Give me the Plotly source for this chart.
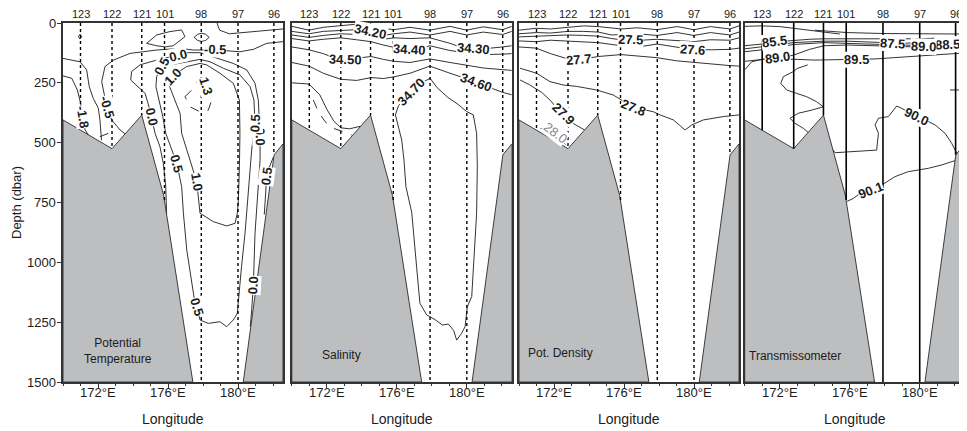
import math
import plotly.graph_objects as go

# ---------------- data ----------------
STATION_IDS = ["123", "122", "121", "101", "98", "97", "96"]
STATION_LON = [171.0, 172.8, 174.5, 175.8, 177.9, 180.0, 182.05]
STATION_BOTTOM = [448, 525, 385, 740, 1500, 1500, 551]

BATHY_W_LON = [170.0, 170.0, 172.8, 174.5, 175.75, 177.42]
BATHY_W_DEP = [1500, 405, 525, 385, 720, 1500]
BATHY_E_LON = [180.3, 182.06, 182.57, 182.57]
BATHY_E_DEP = [1500, 551, 505, 1500]

PANEL_NAMES = ["Potential<br>Temperature", "Salinity", "Pot. Density", "Transmissometer"]
DEPTH_TICKS = [0, 250, 500, 750, 1000, 1250, 1500]
LON_TICKS = [172, 176, 180]
LON_TICK_TEXT = ["172°E", "176°E", "180°E"]

# contour lines: (label, lon list, depth list, label vertex indices, style)
TEMP_CONTOURS = [
    ("", [170.0, 170.97, 171.35, 171.5, 171.73, 172.02, 172.11, 172.2],
     [148, 162, 196, 266, 315, 356, 405, 490], [], "solid"),
    ("-1.8", [170.0, 170.5, 170.82, 171.01, 171.12, 171.26, 171.45],
     [221, 231, 280, 336, 391, 447, 468], [4], "solid"),
    ("", [172.11, 172.59], [475, 461], [], "dash"),
    ("", [174.78, 175.35, 176.1, 176.77, 176.97, 176.5, 176.3, 175.83, 175.35, 174.78],
     [85, 50, 36, 29, 57, 85, 95, 100, 95, 85], [], "solid"),
    ("", [177.49, 177.7, 177.92, 178.15, 178.35, 178.15, 177.92, 177.7, 177.49],
     [60, 47, 43, 47, 60, 73, 77, 73, 60], [], "solid"),
    ("", [170.88, 170.97, 171.06, 170.97, 170.88], [57, 47, 57, 67, 57], [], "solid"),
    ("", [178.8, 178.95, 179.5, 180.2, 181.0, 181.8, 182.57], [0, 30, 45, 40, 35, 30, 25], [], "solid"),
    ("-0.5", [182.57, 181.64, 180.88, 180.11, 179.35, 178.69, 178.02, 177.45, 176.69, 175.83, 175.35,
              174.59, 173.83, 172.88, 172.4, 172.21, 172.4, 172.5, 172.78, 173.26, 173.64],
     [78, 85, 110, 120, 116, 110, 113, 113, 106, 110, 113, 120, 127, 155, 182, 245, 308, 350, 405,
      447, 468], [5, 17], "solid"),
    ("0.0", [175.92, 175.87, 175.73, 175.54, 175.26, 175.07, 174.97, 174.69, 174.21, 173.87, 173.92,
             174.4, 175.35, 176.11, 176.59, 177.16, 177.83, 178.59, 179.73, 180.5, 180.97, 181.16,
             181.22, 181.26, 181.26, 181.16, 181.07, 180.97, 180.91, 180.88, 180.78, 180.7],
     [795, 684, 586, 517, 461, 391, 364, 294, 259, 238, 203, 175, 155, 143, 134, 124, 124, 143, 169,
      196, 252, 322, 391, 475, 573, 684, 795, 879, 1018, 1094, 1199, 1269], [5, 14, 23, 29], "solid"),
    ("0.5", [175.64, 175.35, 175.31, 175.5, 175.7, 175.87, 176.3, 176.5, 176.78, 176.88, 177.07, 177.35,
             177.54, 177.64, 177.83, 178.3, 178.97, 179.35, 179.73, 179.96, 180.02, 180.2, 180.4,
             180.59, 180.78, 180.97, 180.91, 180.69, 180.11, 179.16, 178.4, 177.83, 177.07, 176.3,
             175.64],
     [182, 224, 266, 322, 391, 461, 545, 586, 684, 795, 948, 1088, 1171, 1185, 1241, 1255, 1248,
      1269, 1241, 1213, 1157, 1018, 879, 684, 531, 419, 322, 266, 217, 189, 162, 152, 162, 171, 182],
     [0, 7, 13, 25], "solid"),
    ("0.5", [182.02, 181.75, 181.64, 181.55, 181.5], [560, 610, 642, 720, 800], [2], "solid"),
    ("1.0", [177.83, 177.07, 176.69, 176.3, 176.02, 176.3, 176.69, 176.78, 177.07, 177.35, 177.64,
             177.83, 178.59, 179.35, 179.83, 179.96, 180.02, 180.08, 180.11, 180.08, 179.73, 178.97,
             178.21, 177.83],
     [169, 182, 200, 224, 252, 308, 378, 461, 531, 600, 663, 795, 830, 848, 837, 795, 740, 600, 461,
      322, 252, 210, 175, 169], [3, 10], "solid"),
    ("1.3", [176.97, 177.35, 177.73, 178.02, 178.15, 178.3, 178.5, 178.3, 177.83, 177.26, 176.97],
     [308, 280, 238, 227, 262, 294, 322, 364, 371, 350, 308], [4], "dash"),
]

SAL_CONTOURS = [
    ("", [170.0, 170.98, 171.8, 172.79, 173.7, 174.53, 175.2, 175.84, 176.75, 177.89, 179.04, 179.99,
          180.94, 182.05, 182.57],
     [14, 30, 18, 10, 5, 10, 22, 28, 18, 30, 14, 30, 16, 28, 14], [], "solid"),
    ("34.20", [170.0, 170.98, 171.8, 172.79, 173.7, 174.47, 175.23, 175.84, 176.75, 177.89, 179.04,
               179.99, 180.94, 182.05, 182.57],
     [35, 45, 35, 30, 28, 35, 52, 45, 38, 50, 35, 50, 38, 48, 35], [5], "solid"),
    ("34.30", [170.0, 170.98, 171.8, 172.79, 173.7, 174.53, 175.23, 175.84, 176.75, 177.89, 179.04,
               179.6, 180.38, 180.94, 182.05, 182.57],
     [50, 60, 52, 45, 48, 55, 68, 62, 65, 62, 85, 100, 107, 108, 100, 95], [12], "solid"),
    ("34.40", [170.0, 170.98, 171.8, 172.79, 173.7, 174.53, 175.23, 175.84, 176.75, 177.3, 177.89,
               178.5, 179.04, 179.99, 180.94, 182.05, 182.57],
     [65, 75, 68, 62, 70, 78, 92, 102, 111, 108, 95, 105, 115, 125, 132, 130, 128], [8], "solid"),
    ("34.50", [170.0, 170.98, 171.8, 172.4, 173.04, 173.7, 174.53, 175.23, 175.84, 176.75, 177.89,
               179.04, 179.99, 180.94, 182.05, 182.57],
     [100, 112, 128, 145, 153, 148, 140, 152, 160, 165, 150, 165, 178, 188, 195, 198], [4], "solid"),
    ("34.60", [170.0, 170.98, 171.8, 172.79, 173.7, 174.53, 175.23, 175.84, 176.75, 177.89, 179.04,
               180.0, 180.57, 181.5, 182.05, 182.57],
     [165, 180, 210, 235, 240, 228, 232, 225, 210, 180, 210, 235, 247, 275, 290, 300], [12], "solid"),
    ("", [170.0, 170.98, 171.6, 172.0, 172.4, 172.8, 173.3, 173.9],
     [250, 255, 300, 360, 410, 438, 442, 432], [], "solid"),
    ("", [171.23, 171.52, 171.9, 172.37, 172.94, 173.42], [322, 371, 412, 440, 454, 468], [], "dash"),
    ("34.70", [175.92, 176.1, 176.85, 177.3, 177.9, 178.3, 178.9, 179.5, 179.99, 180.37, 180.56,
               180.6, 180.56, 180.45, 180.28, 180.03, 179.9, 179.7, 179.42, 179.25, 178.95, 178.6,
               178.2, 177.71, 177.32, 177.13, 177.0, 176.85, 176.52, 176.41, 176.28, 176.09, 175.92],
     [384, 345, 287, 255, 231, 270, 310, 340, 370, 384, 461, 600, 795, 950, 1143, 1185, 1269, 1297,
      1325, 1285, 1258, 1262, 1240, 1220, 1171, 1018, 900, 790, 684, 573, 489, 433, 384], [2], "solid"),
]

DENS_CONTOURS = [
    ("", [170.0, 170.98, 171.8, 172.79, 173.7, 174.53, 175.84, 176.75, 177.89, 179.04, 179.99, 180.94,
          182.05, 182.57],
     [30, 22, 25, 18, 12, 15, 25, 20, 28, 15, 28, 15, 25, 12], [], "solid"),
    ("", [170.0, 170.98, 171.8, 172.79, 173.7, 174.53, 175.3, 175.84, 176.75, 177.89, 179.04, 179.99,
          180.94, 182.05, 182.57],
     [45, 40, 42, 35, 35, 38, 50, 48, 45, 52, 40, 52, 40, 50, 38], [], "solid"),
    ("27.5", [170.0, 170.98, 171.8, 172.79, 173.7, 174.53, 175.3, 175.84, 176.36, 177.0, 177.89, 179.04,
              179.99, 180.94, 182.05, 182.57],
     [58, 55, 55, 50, 52, 55, 65, 70, 70, 72, 68, 72, 78, 70, 72, 62], [8], "solid"),
    ("27.6", [170.0, 170.98, 171.8, 172.79, 173.7, 174.53, 175.84, 177.0, 177.89, 179.0, 179.89, 181.0,
              182.05, 182.57],
     [75, 78, 72, 75, 80, 82, 95, 98, 88, 102, 111, 112, 110, 105], [10], "solid"),
    ("27.7", [170.0, 170.98, 171.8, 172.79, 173.41, 174.53, 175.84, 177.0, 177.89, 179.0, 179.99, 181.0,
              182.05, 182.57],
     [100, 105, 128, 150, 153, 140, 132, 140, 145, 158, 165, 170, 178, 180], [4], "solid"),
    ("27.8", [170.06, 171.01, 171.77, 172.53, 173.3, 174.44, 175.39, 176.53, 177.68, 178.06, 178.82,
              179.49, 179.87, 180.53, 181.68, 182.57],
     [189, 210, 245, 259, 265, 280, 301, 352, 371, 384, 405, 447, 426, 405, 391, 384], [7], "solid"),
    ("27.9", [170.06, 170.6, 171.3, 171.77, 172.1, 172.53, 173.1, 173.75],
     [238, 258, 290, 322, 350, 378, 420, 447], [5], "solid"),
    ("28.0", [171.2, 171.7, 172.06, 172.45, 172.7], [440, 448, 458, 490, 512], [2], "gray"),
]

TRANS_CONTOURS = [
    ("", [170.0, 170.99, 172.0, 172.76, 173.7, 174.53, 175.43], [14, 12, 15, 21, 30, 38, 46], [], "solid"),
    ("", [174.0, 175.85, 177.9, 180.0, 182.05, 182.57], [30, 40, 44, 46, 46, 45], [], "solid"),
    ("85.5", [170.0, 170.99, 171.71, 172.76, 173.71, 174.53, 175.85, 177.9, 180.0, 182.05, 182.57],
     [95, 88, 79, 72, 68, 66, 66, 68, 66, 60, 58], [2], "solid"),
    ("87.5", [170.0, 170.99, 172.0, 172.76, 174.53, 175.85, 177.9, 178.47, 179.05, 180.0, 182.05, 182.57],
     [108, 100, 90, 82, 76, 76, 80, 84, 85, 82, 74, 72], [7], "solid"),
    ("88.5", [170.0, 170.99, 172.0, 172.76, 174.53, 175.85, 177.9, 180.0, 181.0, 181.6, 182.57],
     [120, 112, 100, 90, 82, 84, 90, 94, 92, 90, 88], [9], "solid"),
    ("89.0", [170.0, 170.99, 171.9, 172.76, 173.71, 174.53, 175.85, 177.9, 179.0, 180.2, 181.0, 182.57],
     [160, 152, 146, 135, 110, 95, 92, 96, 98, 100, 103, 106], [2, 9], "solid"),
    ("89.5", [170.0, 170.4, 171.1, 172.0, 173.0, 174.0, 175.0, 176.38, 177.5, 178.5, 179.5, 180.5,
              181.5, 182.57],
     [196, 162, 150, 150, 152, 155, 153, 153, 150, 145, 140, 135, 130, 125], [7], "solid"),
    ("", [173.6, 173.0, 172.78, 172.21, 172.06, 172.4, 172.97, 173.54, 174.11, 174.49, 173.83, 173.07,
          172.59, 172.87, 173.35, 173.64],
     [175, 190, 203, 224, 252, 280, 294, 308, 329, 350, 364, 377, 398, 419, 440, 458], [], "solid"),
    ("90.0", [175.05, 175.16, 176.02, 177.54, 177.64, 177.45, 177.64, 178.21, 178.5, 178.69, 178.98,
              179.83, 180.12, 180.88, 181.45, 181.83, 182.12],
     [530, 542, 538, 531, 461, 426, 398, 391, 364, 347, 357, 391, 398, 426, 461, 503, 545], [11], "solid"),
    ("90.1", [175.85, 176.21, 176.59, 177.16, 177.83, 178.59, 179.35, 180.5, 181.26, 182.02],
     [745, 733, 712, 698, 677, 642, 621, 607, 593, 575], [3], "solid"),
    ("", [181.73, 182.57], [280, 280], [], "solid"),
]

PANEL_CONTOURS = [TEMP_CONTOURS, SAL_CONTOURS, DENS_CONTOURS, TRANS_CONTOURS]

# ---------------- layout geometry (window pixels) ----------------
WIN_W, WIN_H = 967, 431
OFF = 8                      # page body margin
W, H = WIN_W - OFF, WIN_H - OFF
PANEL_X0 = [63, 291.8, 519, 744.7]
PANEL_W = 220
PLOT_TOP, PLOT_BOT = 23, 382
LON_MIN, LON_MAX = 170.0, 182.57
DEP_MAX = 1500
PX_PER_LON = PANEL_W / (LON_MAX - LON_MIN)
PX_PER_DBAR = (PLOT_BOT - PLOT_TOP) / DEP_MAX
FONT = "Liberation Sans, Arial, Helvetica, sans-serif"
INK = "#1c1c1c"
FRAME = "#333333"
GRAY = "#bdbec0"


def px(xw):
    return (xw - OFF) / W


def py(yw):
    return 1 - (yw - OFF) / H


def label_angle(lons, deps, i):
    a = max(i - 1, 0)
    b = min(i + 1, len(lons) - 1)
    dx = (lons[b] - lons[a]) * PX_PER_LON
    dy = (deps[b] - deps[a]) * PX_PER_DBAR
    ang = math.degrees(math.atan2(dy, dx))
    if ang > 90:
        ang -= 180
    if ang < -90:
        ang += 180
    return ang


def paper_text(x, y, text, size, **kw):
    d = dict(x=px(x), y=py(y), xref="paper", yref="paper", text=text, showarrow=False,
             xanchor="center", yanchor="middle", font=dict(size=size, color=INK, family=FONT))
    d.update(kw)
    return d


fig = go.Figure()
annotations = []
layout = dict(
    width=W, height=H, margin=dict(l=0, r=0, t=0, b=0, pad=0, autoexpand=False),
    paper_bgcolor="white", plot_bgcolor="white", showlegend=False,
    font=dict(family=FONT, color=INK),
)

ydom = [py(PLOT_BOT), py(PLOT_TOP)]

for k in range(4):
    sfx = "" if k == 0 else str(k + 1)
    xa, ya = "x" + sfx, "y" + sfx
    x0 = PANEL_X0[k]
    layout["xaxis" + sfx] = dict(
        domain=[px(x0), px(x0 + PANEL_W)], range=[LON_MIN, LON_MAX], anchor=ya,
        tickmode="array", tickvals=LON_TICKS, showticklabels=False,
        ticks="outside", ticklen=4, tickcolor=FRAME, tickwidth=1,
        minor=dict(tickmode="linear", tick0=170, dtick=1, ticks="outside", ticklen=2, tickcolor=FRAME),
        showline=True, linecolor=FRAME, linewidth=1.5, mirror=True, automargin=False,
        showgrid=False, zeroline=False,
    )
    layout["yaxis" + sfx] = dict(
        domain=ydom, range=[DEP_MAX, 0], anchor=xa,
        tickvals=DEPTH_TICKS, showticklabels=False,
        ticks="outside" if k == 0 else "", ticklen=4, tickcolor=FRAME,
        showline=True, linecolor=FRAME, linewidth=1.5, mirror=True, automargin=False,
        showgrid=False, zeroline=False,
    )

    # contour lines
    for text, lons, deps, lab_idx, style in PANEL_CONTOURS[k]:
        dash = "dash" if style == "dash" else "solid"
        col = "#8a8a8a" if style == "gray" else INK
        fig.add_trace(go.Scatter(x=lons, y=deps, mode="lines", xaxis=xa, yaxis=ya,
                                 line=dict(color=col, width=0.9, dash=dash),
                                 hoverinfo="skip", showlegend=False))
        for i in lab_idx:
            annotations.append(dict(
                x=lons[i], y=deps[i], xref=xa, yref=ya, text=text, showarrow=False,
                textangle=label_angle(lons, deps, i),
                font=dict(size=13, color=col, family=FONT,
                          weight="normal" if style == "gray" else "bold"),
                bgcolor="white", borderpad=0,
            ))

    # bathymetry
    for blon, bdep in ((BATHY_W_LON, BATHY_W_DEP), (BATHY_E_LON, BATHY_E_DEP)):
        fig.add_trace(go.Scatter(x=blon + [blon[0]], y=bdep + [bdep[0]], mode="lines",
                                 fill="toself", fillcolor=GRAY, xaxis=xa, yaxis=ya,
                                 line=dict(color="#2a2a2a", width=0.9),
                                 hoverinfo="skip", showlegend=False))

    # station lines
    sx, sy = [], []
    for lon, bot in zip(STATION_LON, STATION_BOTTOM):
        sx += [lon, lon, None]
        sy += [0, bot, None]
    fig.add_trace(go.Scatter(x=sx, y=sy, mode="lines", xaxis=xa, yaxis=ya,
                             line=dict(color="black", width=1.6 if k == 3 else 1.4,
                                       dash="solid" if k == 3 else "dot"),
                             hoverinfo="skip", showlegend=False))

    # station numbers
    for sid, lon in zip(STATION_IDS, STATION_LON):
        annotations.append(dict(x=lon, y=py(14), xref=xa, yref="paper", text=sid,
                                showarrow=False, xanchor="center", yanchor="middle",
                                font=dict(size=11, color=INK, family=FONT)))

    # longitude tick labels
    for lon, txt in zip(LON_TICKS, LON_TICK_TEXT):
        annotations.append(dict(x=lon, y=py(392), xref=xa, yref="paper", text=txt,
                                showarrow=False, xanchor="center", yanchor="middle",
                                font=dict(size=13, color=INK, family=FONT)))

    # axis title
    annotations.append(paper_text(x0 + PANEL_W / 2, 419, "Longitude", 14))

# depth tick labels
for d in DEPTH_TICKS:
    annotations.append(dict(x=px(58), y=d, xref="paper", yref="y", text=str(d), showarrow=False,
                            xanchor="right", yanchor="middle",
                            font=dict(size=13, color=INK, family=FONT)))

# panel names
annotations.append(paper_text(118, 351, PANEL_NAMES[0], 12, align="center"))
annotations.append(paper_text(320, 355, PANEL_NAMES[1], 12, xanchor="left"))
annotations.append(paper_text(526, 353, PANEL_NAMES[2], 12, xanchor="left"))
annotations.append(paper_text(747, 356, PANEL_NAMES[3], 12, xanchor="left"))

# y title
annotations.append(paper_text(16, 203, "Depth (dbar)", 13, textangle=-90))

layout["annotations"] = annotations
fig.update_layout(**layout)
fig.write_html("out.html")
